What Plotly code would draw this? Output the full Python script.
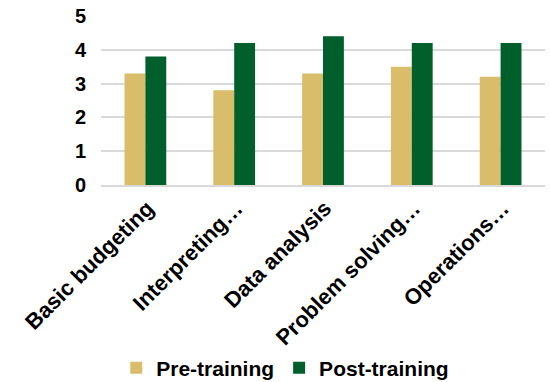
import plotly.graph_objects as go

categories = ["Basic budgeting", "Interpreting…", "Data analysis", "Problem solving…", "Operations…"]
pre_training = [3.3, 2.8, 3.3, 3.5, 3.2]
post_training = [3.8, 4.2, 4.4, 4.2, 4.2]

font_family = "Liberation Sans, Arial, sans-serif"

fig = go.Figure()
fig.add_trace(go.Bar(name="Pre-training", x=categories, y=pre_training,
                     marker=dict(color="#D9BD6A", line_width=0)))
fig.add_trace(go.Bar(name="Post-training", x=categories, y=post_training,
                     marker=dict(color="#005F2B", line_width=0)))

fig.update_layout(
    width=550, height=382,
    margin=dict(l=101, r=5, t=16, b=197, autoexpand=False),
    barmode="group", bargap=0.53, bargroupgap=0,
    plot_bgcolor="white", paper_bgcolor="white",
    font=dict(family=font_family, color="black"),
    legend=dict(orientation="h", x=0.415, xanchor="center", y=-1.083, yanchor="middle",
                font=dict(size=21, family=font_family, weight="bold"),
                itemsizing="constant", tracegroupgap=0),
)
fig.update_yaxes(range=[0, 5], dtick=1, showgrid=True, gridcolor="#D9D9D9", gridwidth=1.5,
                 zeroline=False, showline=False, automargin=False,
                 tickfont=dict(size=20, family=font_family, weight="bold"),
                 ticklabelstandoff=14)
fig.update_xaxes(tickangle=-45, showline=True, linecolor="#D9D9D9", linewidth=1.5,
                 automargin=False, ticklabelshift=2,
                 tickfont=dict(size=22, family=font_family, weight="bold"))

fig.write_html("out.html")
